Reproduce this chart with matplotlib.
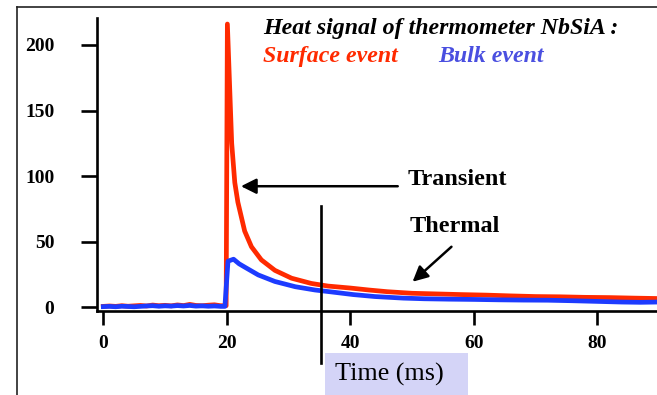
import matplotlib
matplotlib.use("Agg")
import matplotlib.pyplot as plt
from matplotlib.lines import Line2D
from matplotlib.patches import Rectangle

# surface event (red trace), time in ms
t_surface = [0, 1, 2, 3, 4, 5, 6, 7, 8, 9, 10, 11, 12, 13, 14, 15, 16, 17, 18, 19,
             19.9, 20.1, 20.8, 21.3, 21.8, 22.4, 22.9, 24.0, 25.6, 27.8, 30.5, 33.7,
             36.4, 40, 43, 46, 50, 54, 58, 62, 66, 70, 74, 78, 82, 86, 89.7]
v_surface = [0.5, 0.8, 0.5, 1.0, 0.6, 0.9, 1.2, 0.8, 1.5, 1.0, 1.3, 0.9, 1.6, 1.1, 2.0, 1.2, 1.0, 1.4, 1.7, 1.0,
             1.0, 216, 125, 95, 80, 68, 58, 46, 36, 28, 22, 18,
             16, 14.5, 13, 11.7, 10.5, 10, 9.5, 9.1, 8.5, 8, 7.8, 7.4, 7.2, 6.8, 6.5]

# bulk event (blue trace)
t_bulk = [0, 1, 2, 3, 4, 5, 6, 7, 8, 9, 10, 11, 12, 13, 14, 15, 16, 17, 18, 19,
          19.7, 20.2, 21.1, 22.0, 22.9, 25.1, 27.8, 31.1, 34.3, 37, 40.5, 44, 48.6,
          52, 56, 60, 64, 68, 72, 76, 80, 84, 87, 89.7]
v_bulk = [0.3, 0.5, 0.2, 0.6, 0.4, 0.2, 0.5, 0.8, 1.0, 0.6, 0.9, 0.7, 1.1, 0.8, 1.2, 0.7, 0.9, 0.6, 0.8, 0.5,
          0.5, 35, 36.5, 33, 30.5, 24.5, 19.5, 15.5, 13, 11.5, 9.5, 8, 6.8,
          6.3, 6, 5.8, 5.5, 5.3, 5.2, 4.8, 4.3, 3.8, 3.6, 3.8]

x_ticks = [0, 20, 40, 60, 80]
y_ticks = [0, 50, 100, 150, 200]
marker_time = 35.2

RED = "#ff2a00"
BLUE = "#1d3bff"
W, H = 657, 395

fig = plt.figure(figsize=(W / 100, H / 100), dpi=100)


def px(x, y):
    # reference pixel (top-left origin) -> figure fraction
    return x / W, 1 - y / H


serif = "Liberation Serif"

# slide frame
fig.add_artist(Line2D([17.3 / W, 17.3 / W], [0, 1 - 6.7 / H], color="#222222", lw=1.2))
fig.add_artist(Line2D([17.3 / W, 1], [1 - 6.7 / H, 1 - 6.7 / H], color="#222222", lw=1.2))

ax = fig.add_axes([96.7 / W, (H - 310.7) / H, 1 - 96.7 / W, (310.7 - 18) / H])
ax.plot(t_surface, v_surface, color=RED, lw=3.4)
ax.plot(t_bulk, v_bulk, color=BLUE, lw=3.4)
ax.set_xlim(-1.07, 89.7)
ax.set_ylim(-2.8, 220.6)

for s in ["top", "right"]:
    ax.spines[s].set_visible(False)
for s in ["left", "bottom"]:
    ax.spines[s].set_linewidth(1.9)
ax.set_xticks(x_ticks)
ax.set_yticks(y_ticks)
ax.tick_params(axis="y", direction="out", length=11.5, width=1.9, pad=19)
ax.tick_params(axis="x", direction="out", length=10.3, width=1.9, pad=7)
for lab in ax.get_xticklabels() + ax.get_yticklabels():
    lab.set_fontfamily(serif)
    lab.set_fontweight("bold")
    lab.set_fontsize(14)

# vertical marker line, runs below the axis
ax.plot([marker_time, marker_time], [-42.5, 77], color="black", lw=1.9, clip_on=False)

# arrows
ap = dict(arrowstyle="-|>,head_length=0.4,head_width=0.2", mutation_scale=23,
          color="black", lw=1.8, shrinkA=0, shrinkB=0)
ax.annotate("", xy=(22.3, 92.2), xytext=(47.7, 92.2), arrowprops=ap, annotation_clip=False)
ax.annotate("", xy=(50.1, 19.3), xytext=(56.4, 46), arrowprops=ap, annotation_clip=False)

fig.text(*px(408, 185), "Transient", family=serif, weight="bold", fontsize=17.5, va="baseline")
fig.text(*px(410, 231.7), "Thermal", family=serif, weight="bold", fontsize=17.5, va="baseline")

fig.text(*px(262.7, 34), "Heat signal of thermometer NbSiA :", family=serif,
         weight="bold", style="italic", fontsize=17.2, va="baseline")
fig.text(*px(262.7, 61.7), "Surface event", family=serif, weight="bold", style="italic",
         fontsize=17.2, va="baseline", color=RED)
fig.text(*px(438, 61.7), "Bulk event", family=serif, weight="bold", style="italic",
         fontsize=17.2, va="baseline", color="#4a4fe0")

# x label box
x0, y0 = px(325, 395)
fig.add_artist(Rectangle((x0, y0), (467.5 - 325) / W, (395 - 352.7) / H,
                         transform=fig.transFigure, color="#d4d4f7", lw=0))
fig.text(*px(335, 381), "Time (ms)", family=serif, fontsize=18.8, va="baseline")

fig.savefig("out.png", dpi=100)
